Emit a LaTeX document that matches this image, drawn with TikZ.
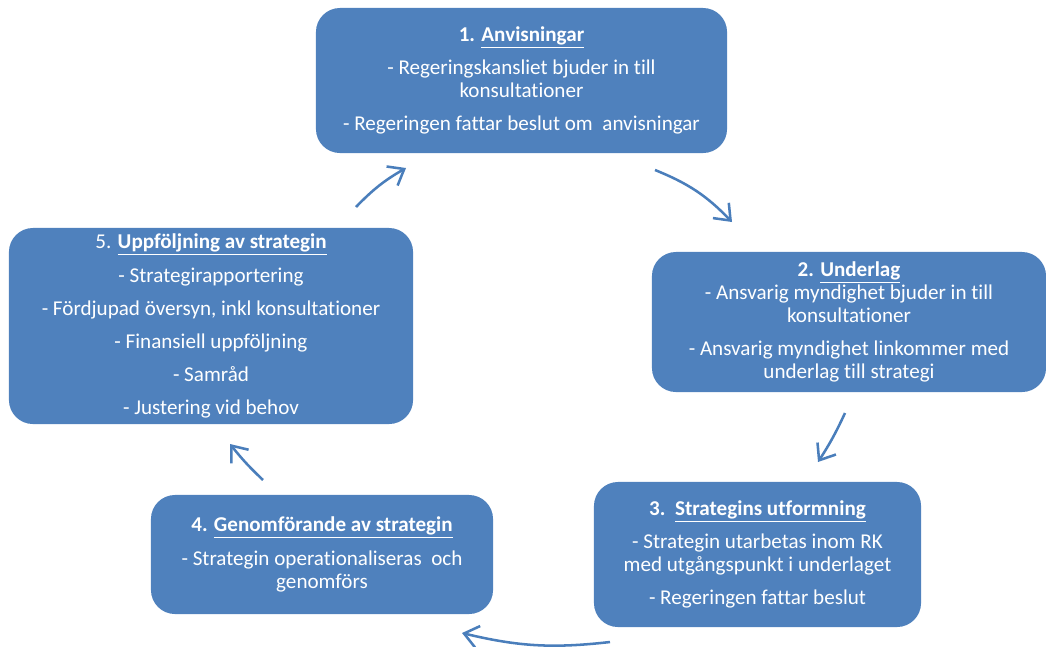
\documentclass[tikz,border=0pt]{standalone}
\usepackage{fontspec}
\setmainfont[Ligatures={NoCommon}]{Carlito}
\usepackage{tikz}
\usetikzlibrary{arrows.meta}
\definecolor{stageblue}{HTML}{4F81BD}
\definecolor{flowblue}{HTML}{4A7EBB}

\begin{document}
\begin{tikzpicture}[x=0.025cm, y=-0.025cm,
    stage/.style={fill=stageblue, draw=none, rounded corners=0.6cm, text=white,
                  align=center, inner sep=0pt, minimum width=#1,
                  font=\fontsize{15}{16.5}\selectfont},
    flow/.style={-{Straight Barb[length=0.35cm, width=0.55cm]}, line width=1.8pt,
                 draw=flowblue},
]
    \useasboundingbox (0,0) rectangle (1046,646);

    % Stages
    \node[stage=10.275cm, minimum height=3.625cm] (anv) at (521.5,80.5)
        {\textbf{1. \underline{Anvisningar}}\\[7pt]
         - Regeringskansliet bjuder in till\\ konsultationer\\[7pt]
         - Regeringen fattar beslut om\ \ anvisningar};
    \node[stage=9.85cm, minimum height=3.5cm] (und) at (849,322)
        {\textbf{2. \underline{Underlag}}\\
         - Ansvarig myndighet bjuder in till\\ konsultationer\\[7pt]
         - Ansvarig myndighet linkommer med\\ underlag till strategi};
    \node[stage=8.175cm, minimum height=3.625cm] (utf) at (757.5,554.5)
        {\textbf{3.\ \ \underline{Strategins utformning}}\\[7pt]
         - Strategin utarbetas inom RK\\ med utgångspunkt i underlaget\\[7pt]
         - Regeringen fattar beslut};
    \node[stage=8.55cm, minimum height=2.975cm] (gen) at (322,554.5)
        {\textbf{4. \underline{Genomförande av strategin}}\\[7pt]
         - Strategin operationaliseras\ \ och\\ genomförs};
    \node[stage=10.1cm, minimum height=4.9cm] (upp) at (211,326)
        {5. \textbf{\underline{Uppföljning av strategin}}\\[7pt]
         - Strategirapportering\\[7pt]
         - Fördjupad översyn, inkl konsultationer\\[7pt]
         - Finansiell uppföljning\\[7pt]
         - Samråd\\[7pt]
         - Justering vid behov};

    % Arrow ends
    \coordinate (a1) at (356,207);  \coordinate (a2) at (406,168);
    \coordinate (b1) at (655,170);  \coordinate (b2) at (732,222);
    \coordinate (c1) at (845,413);  \coordinate (c2) at (818,462);
    \coordinate (d1) at (610,642);  \coordinate (d2) at (462,633);
    \coordinate (e1) at (263,480);  \coordinate (e2) at (230,444);

    % Cycle arrows
    \draw[flow] (a1) to[bend left=8] (a2);
    \draw[flow] (b1) to[bend left=12] (b2);
    \draw[flow] (c1) to[bend left=4] (c2);
    \draw[flow] (d1) to[bend left=10] (d2);
    \draw[flow] (e1) to[bend left=4] (e2);
\end{tikzpicture}
\end{document}
